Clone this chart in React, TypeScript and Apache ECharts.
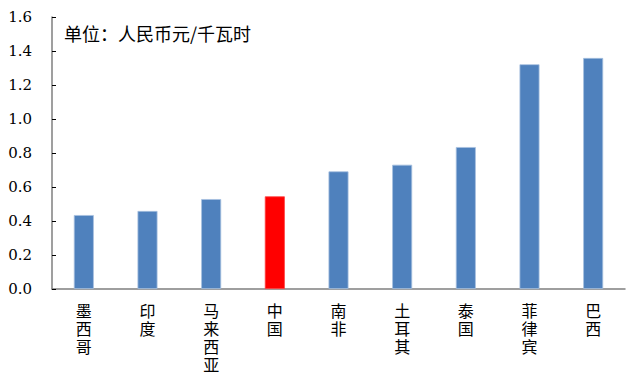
import React, { useEffect, useRef } from "react";
import * as echarts from "echarts";

const categories = ["墨西哥", "印度", "马来西亚", "中国", "南非", "土耳其", "泰国", "菲律宾", "巴西"];
const values = [0.435, 0.459, 0.529, 0.545, 0.692, 0.731, 0.835, 1.322, 1.359];
const highlight = "中国";
const unitLabel = "单位：人民币元/千瓦时";

export default function App() {
  const ref = useRef<HTMLDivElement>(null);
  useEffect(() => {
    const chart = echarts.init(ref.current!, null, { renderer: "svg" });
    chart.setOption({
      animation: false,
      backgroundColor: "#ffffff",
      grid: { left: 52, right: 16, top: 17, bottom: 95, containLabel: false },
      graphic: [
        {
          type: "text",
          left: 64,
          top: 24,
          style: {
            text: unitLabel,
            fontSize: 18,
            fontFamily: "Noto Sans CJK SC",
            fill: "#000",
          },
        },
      ],
      xAxis: {
        type: "category",
        data: categories,
        axisLine: { lineStyle: { color: "#7f7f7f", width: 1.5 } },
        axisTick: { inside: true, length: 5, interval: 0, lineStyle: { color: "#000" } },
        axisLabel: {
          interval: 0,
          margin: 12,
          fontSize: 16,
          lineHeight: 18,
          color: "#000",
          fontFamily: "Noto Sans CJK SC",
          verticalAlign: "top",
          formatter: (v: string) => v.split("").join("\n"),
        },
      },
      yAxis: {
        type: "value",
        min: 0,
        max: 1.6,
        interval: 0.2,
        axisLine: { show: true, lineStyle: { color: "#7f7f7f", width: 1.5 } },
        axisTick: { show: true, inside: true, length: 4, lineStyle: { color: "#000" } },
        splitLine: { show: false },
        axisLabel: {
          margin: 20,
          fontSize: 15,
          color: "#000",
          fontFamily: "DejaVu Serif",
          formatter: (v: number) => v.toFixed(1),
        },
      },
      series: [
        {
          type: "bar",
          barWidth: 20,
          data: values.map((v, i) => ({
            value: v,
            itemStyle: {
              color: categories[i] === highlight ? "#ff0000" : "#4f81bd",
              borderColor: categories[i] === highlight ? "#ff4040" : "#a7c0e0",
              borderWidth: 0.8,
            },
          })),
        },
      ],
    });
    return () => chart.dispose();
  }, []);
  return <div ref={ref} style={{ width: 641, height: 384, margin: -8 }} />;
}
